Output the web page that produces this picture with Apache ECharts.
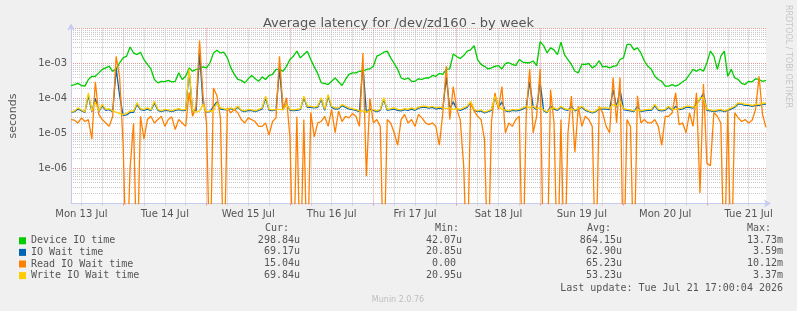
<!DOCTYPE html>
<html>
<head>
<meta charset="utf-8">
<title>Average latency for /dev/zd160 - by week</title>
<script src="https://cdn.jsdelivr.net/npm/echarts@6.0.0/dist/echarts.min.js"></script>
<style>
html, body { margin: 0; padding: 0; background: #f0f0f0; }
#chart { width: 797px; height: 311px; }
</style>
</head>
<body>
<div id="chart"></div>
<script>
// hours counted from Mon 13 Jul 00:00, one sample per hour
const startHour = 9;
const endHour = 209;
const dayLabels = ['Mon 13 Jul', 'Tue 14 Jul', 'Wed 15 Jul', 'Thu 16 Jul', 'Fri 17 Jul',
    'Sat 18 Jul', 'Sun 19 Jul', 'Mon 20 Jul', 'Tue 21 Jul'];

// values in microseconds
const deviceIO = [
    235, 250, 270, 235, 225, 350, 430, 430, 540, 680,
    750, 830, 600, 700, 1050, 1450, 1620, 2970, 2000, 1800,
    2100, 1300, 940, 700, 350, 280, 310, 305, 330, 300,
    310, 540, 350, 430, 750, 600, 680, 700, 800, 750,
    1050, 2000, 2400, 2000, 2100, 1450, 750, 490, 350, 330,
    280, 365, 455, 365, 310, 415, 350, 455, 490, 680,
    680, 600, 830, 1300, 1620, 2250, 1450, 1800, 2250, 1300,
    800, 520, 280, 270, 250, 310, 385, 300, 235, 350,
    490, 540, 540, 600, 600, 680, 700, 830, 1620, 1800,
    2100, 2250, 1450, 1000, 680, 385, 350, 385, 310, 310,
    365, 350, 385, 385, 455, 430, 520, 490, 680, 700,
    1880, 1580, 1380, 1680, 2250, 2450, 3250, 1300, 940, 830,
    700, 750, 830, 870, 700, 1000, 1050, 940, 870, 1300,
    1100, 1050, 1050, 1180, 870, 4200, 3250, 2000, 2800, 2450,
    1800, 4100, 1800, 1300, 940, 600, 540, 940, 940, 1000,
    750, 870, 1200, 800, 830, 750, 830, 870, 1300, 1450,
    3500, 3500, 2450, 2800, 2000, 1180, 830, 680, 430, 350,
    310, 225, 225, 250, 225, 250, 300, 350, 490, 680,
    600, 700, 600, 1050, 2250, 1620, 680, 1620, 2250, 430,
    680, 385, 350, 270, 250, 310, 300, 365, 350, 310,
    330
];
const ioWait = [
    40, 42, 50, 45, 40, 120, 42, 100, 42, 62,
    46, 48, 42, 700, 120, 33, 34, 40, 40, 68,
    48, 46, 50, 45, 75, 46, 42, 46, 45, 42,
    46, 48, 45, 46, 600, 42, 45, 2000, 70, 40,
    42, 60, 80, 50, 48, 47, 51, 47, 56, 45,
    42, 46, 45, 42, 46, 50, 105, 46, 45, 47,
    700, 47, 70, 46, 45, 46, 48, 105, 56, 56,
    54, 56, 95, 46, 115, 56, 50, 51, 62, 56,
    50, 48, 46, 42, 900, 40, 50, 46, 42, 46,
    95, 46, 48, 50, 46, 44, 48, 46, 50, 46,
    53, 56, 56, 53, 56, 50, 53, 51, 400, 51,
    80, 50, 46, 50, 56, 78, 46, 42, 44, 39,
    42, 46, 110, 56, 80, 44, 42, 46, 44, 46,
    50, 56, 300, 56, 48, 300, 45, 39, 60, 50,
    46, 56, 48, 46, 60, 44, 50, 56, 46, 42,
    39, 42, 50, 50, 50, 48, 180, 56, 180, 48,
    46, 44, 42, 60, 42, 44, 46, 46, 62, 46,
    44, 46, 56, 46, 60, 48, 50, 56, 56, 53,
    70, 95, 140, 46, 44, 42, 44, 46, 42, 46,
    50, 56, 70, 68, 64, 64, 60, 64, 64, 68,
    69
];
const readWait = [
    25, 24, 20, 28, 22, 25, 7, 300, 35, 25,
    20, 16, 31, 1600, 400, 5, 0, 1, 20, 0,
    31, 7, 25, 31, 20, 25, 31, 16, 25, 30,
    13, 25, 20, 16, 150, 31, 60, 4500, 117, 20,
    0, 200, 120, 28, 0, 54, 39, 49, 39, 25,
    20, 28, 25, 22, 16, 16, 20, 9, 22, 28,
    1600, 49, 105, 8, 0, 30, 0, 25, 0, 40,
    8, 20, 22, 31, 16, 49, 10.5, 44, 22, 31,
    28, 37, 31, 16, 2000, 0.6, 100, 20, 25, 16,
    0, 25, 20, 10.5, 4.6, 25, 35, 20, 25, 16,
    35, 28, 20, 18, 20, 16, 4.6, 39, 830, 25,
    220, 49, 25, 1.2, 0, 75, 44, 31, 25, 6.7,
    0, 22, 145, 49, 220, 10.5, 20, 16, 25, 31,
    0, 35, 700, 10.5, 31, 700, 0, 0, 180, 20,
    0, 25, 0, 10, 117, 2.9, 60, 16, 31, 25,
    16, 0, 60, 39, 16, 10.5, 400, 20, 400, 0,
    25, 16, 0, 120, 20, 25, 20, 20, 25, 16,
    4.6, 31, 31, 39, 145, 18, 20, 10.5, 39, 16,
    145, 0.2, 260, 1.4, 1.2, 39, 31, 20, 0, 49,
    0, 39, 28, 22, 25, 20, 24, 49, 430, 35,
    15
];
const writeWait = [
    41, 44, 54, 47, 41, 145, 44, 80, 44, 68,
    49, 51, 44, 41, 37, 35, 37, 44, 44, 75,
    51, 49, 54, 47, 83, 49, 44, 49, 47, 44,
    49, 51, 47, 49, 700, 44, 41, 44, 68, 41,
    44, 44, 75, 54, 51, 49, 54, 49, 60, 47,
    44, 49, 47, 44, 49, 54, 117, 49, 47, 49,
    49, 47, 68, 49, 47, 49, 51, 117, 60, 60,
    57, 60, 105, 49, 130, 60, 54, 54, 68, 60,
    54, 51, 49, 44, 44, 41, 44, 49, 44, 49,
    105, 49, 51, 54, 49, 47, 51, 49, 54, 49,
    57, 60, 60, 57, 60, 54, 57, 54, 51, 54,
    49, 51, 49, 54, 60, 83, 49, 44, 47, 41,
    44, 49, 117, 60, 49, 47, 44, 49, 47, 49,
    54, 60, 54, 60, 51, 54, 47, 41, 51, 54,
    49, 60, 51, 49, 49, 47, 51, 60, 49, 44,
    41, 44, 54, 54, 54, 51, 68, 60, 83, 51,
    49, 47, 44, 49, 44, 47, 49, 49, 68, 49,
    47, 49, 60, 49, 49, 51, 54, 60, 60, 57,
    60, 105, 105, 49, 47, 44, 47, 49, 44, 49,
    54, 60, 75, 72, 68, 68, 63, 68, 68, 72,
    75
];

const seriesNames = ['Device IO time', 'IO Wait time', 'Read IO Wait time', 'Write IO Wait time'];
const seriesColors = ['#00cc00', '#0066b3', '#ff8000', '#ffcc00'];
const curVals = ['298.84u', '69.17u', '15.04u', '69.84u'];
const minVals = ['42.07u', '20.85u', '0.00 ', '20.95u'];
const avgVals = ['864.15u', '62.90u', '65.23u', '53.23u'];
const maxVals = ['13.73m', '3.59m', '10.12m', '3.37m'];
const lastUpdate = 'Last update: Tue Jul 21 17:00:04 2026';

const hours = [];
for (let h = startHour; h <= endHour; h++) hours.push(h);

// log axis: zeros are pushed below the bottom edge
function toSeconds(list) {
    return list.map(v => v > 0 ? v / 1e6 : 1e-9);
}

// 2..9 grid lines inside every decade
const minorValues = [];
for (let e = -7; e < -2; e++) {
    for (let m = 2; m <= 9; m++) minorValues.push(m * Math.pow(10, e));
}

const isQuarter = v => Number(v) % 6 === 0 && Number(v) % 24 !== 0;
const isMidnight = v => Number(v) % 24 === 0;
const grayGrid = {color: '#c8c8c8', type: [1, 1], width: 1};
const redGrid = {color: '#e49a9a', type: [1, 1], width: 1};
const axisColor = '#c4cbee';

const chart = echarts.init(document.getElementById('chart'));

const mono = 'DejaVu Sans Mono';
const rowY = [240, 251.8, 263.5, 275.3];
const graphics = [
    {type: 'text', x: 788, y: 5, rotation: -Math.PI / 2,
        style: {text: 'RRDTOOL / TOBI OETIKER', fill: '#c6c6c6', fontSize: 8,
            fontFamily: 'DejaVu Sans', textVerticalAlign: 'middle'}},
    {type: 'text', x: 398, y: 300,
        style: {text: 'Munin 2.0.76', fill: '#bdbdbd', fontSize: 8, fontFamily: 'DejaVu Sans',
            textAlign: 'center', textVerticalAlign: 'middle'}},
    {type: 'text', x: 265, y: 228, style: {text: 'Cur:', fill: '#555', fontSize: 10, fontFamily: mono, textVerticalAlign: 'middle'}},
    {type: 'text', x: 435, y: 228, style: {text: 'Min:', fill: '#555', fontSize: 10, fontFamily: mono, textVerticalAlign: 'middle'}},
    {type: 'text', x: 587, y: 228, style: {text: 'Avg:', fill: '#555', fontSize: 10, fontFamily: mono, textVerticalAlign: 'middle'}},
    {type: 'text', x: 747, y: 228, style: {text: 'Max:', fill: '#555', fontSize: 10, fontFamily: mono, textVerticalAlign: 'middle'}},
    {type: 'text', x: 783, y: 288.5, style: {text: lastUpdate, fill: '#555', fontSize: 10, fontFamily: mono,
        textAlign: 'right', textVerticalAlign: 'middle'}}
];
[[curVals, 300], [minVals, 462], [avgVals, 622], [maxVals, 783]].forEach(function (col) {
    col[0].forEach(function (txt, i) {
        graphics.push({type: 'text', x: col[1], y: rowY[i],
            style: {text: txt, fill: '#555', fontSize: 10, fontFamily: mono,
                textAlign: 'right', textVerticalAlign: 'middle'}});
    });
});

const dataSeries = [deviceIO, ioWait, readWait, writeWait].map(function (list, i) {
    return {
        name: seriesNames[i],
        type: 'line',
        data: toSeconds(list),
        symbol: 'none',
        showSymbol: false,
        clip: true,
        z: 3,
        lineStyle: {width: 1.3, color: seriesColors[i]},
        itemStyle: {color: seriesColors[i]},
        emphasis: {disabled: true}
    };
});

// minor horizontal grid lines of the log scale, drawn through the y axis
const minorGrid = {
    name: 'grid',
    type: 'custom',
    silent: true,
    z: 1,
    data: minorValues.map(v => [0, v]),
    renderItem: function (params, api) {
        const cs = params.coordSys;
        const y = Math.round(api.coord([0, api.value(1)])[1]) + 0.5;
        return {
            type: 'line',
            shape: {x1: cs.x, y1: y, x2: cs.x + cs.width, y2: y},
            style: {stroke: grayGrid.color, lineWidth: 1, lineDash: [1, 1]}
        };
    }
};

chart.setOption({
    animation: false,
    backgroundColor: '#f0f0f0',
    textStyle: {fontFamily: 'DejaVu Sans'},
    title: {
        text: 'Average latency for /dev/zd160 - by week',
        left: 'center',
        top: 12,
        textStyle: {fontSize: 13, fontWeight: 'normal', color: '#555', fontFamily: 'DejaVu Sans'}
    },
    legend: {
        orient: 'vertical',
        left: 14,
        top: 230,
        itemWidth: 7,
        itemHeight: 7,
        itemGap: 0,
        icon: 'rect',
        selectedMode: false,
        data: seriesNames,
        textStyle: {fontFamily: mono, fontSize: 10, color: '#555', lineHeight: 11.6}
    },
    graphic: graphics,
    grid: {
        left: 66, width: 700, top: 28.5, height: 175,
        show: true, backgroundColor: '#ffffff', borderWidth: 0
    },
    xAxis: [
        {
            type: 'category',
            data: hours,
            boundaryGap: false,
            axisLine: {show: true, lineStyle: {color: axisColor},
                symbol: ['none', 'arrow'], symbolSize: [6, 7], symbolOffset: [0, 5]},
            axisTick: {show: true, interval: (i, v) => isQuarter(v), length: 2, lineStyle: {color: '#cccccc'}},
            axisLabel: {
                interval: (i, v) => Number(v) % 24 === 12,
                formatter: v => dayLabels[Math.floor(Number(v) / 24)],
                color: '#555', fontSize: 10, margin: 6
            },
            splitLine: {show: true, interval: (i, v) => isQuarter(v), lineStyle: grayGrid}
        },
        {
            type: 'category',
            data: hours,
            boundaryGap: false,
            position: 'bottom',
            axisLine: {show: false},
            axisTick: {show: true, interval: (i, v) => isMidnight(v), length: 2, lineStyle: {color: '#e49a9a'}},
            axisLabel: {show: false},
            splitLine: {show: true, interval: (i, v) => isMidnight(v), lineStyle: redGrid}
        }
    ],
    yAxis: {
        type: 'log',
        logBase: 10,
        min: 1e-7,
        max: 1e-2,
        interval: 1,
        name: 'seconds',
        nameLocation: 'middle',
        nameGap: 52,
        nameTextStyle: {color: '#555', fontSize: 11},
        axisLine: {show: true, lineStyle: {color: axisColor},
            symbol: ['none', 'arrow'], symbolSize: [6, 7], symbolOffset: [0, 5]},
        axisTick: {show: false},
        axisLabel: {
            color: '#555', fontSize: 10, margin: 4,
            formatter: function (v) {
                const e = Math.round(Math.log10(v));
                return (e <= -3 && e >= -6) ? '1e-0' + (-e) : '';
            }
        },
        splitLine: {show: true, lineStyle: redGrid}
    },
    series: [minorGrid].concat(dataSeries)
});
</script>
</body>
</html>
